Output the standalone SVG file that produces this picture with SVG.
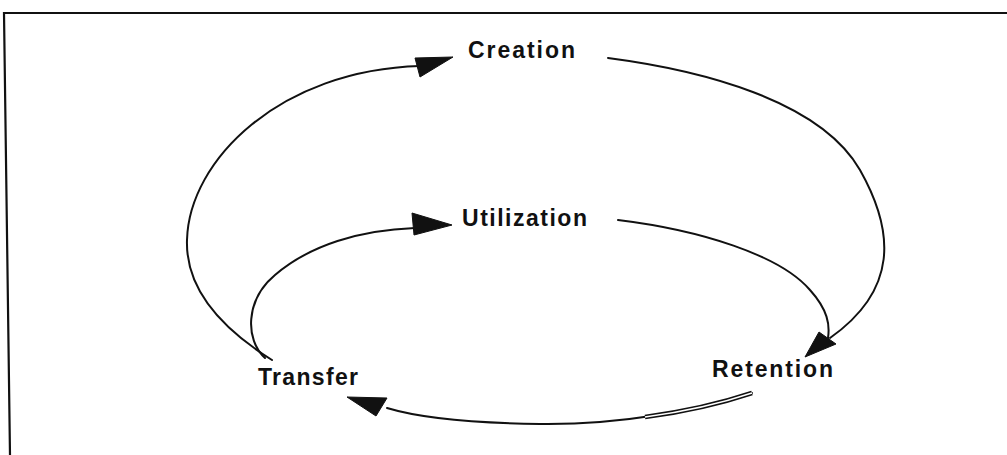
<svg xmlns="http://www.w3.org/2000/svg" width="1007" height="455" viewBox="0 0 1007 455">
<style>
.lbl{font-family:"Liberation Sans",Arial,sans-serif;font-weight:bold;font-size:23px;fill:#111}
.ln{fill:none;stroke:#111;stroke-width:2;stroke-linecap:round}
.ah{fill:#111;stroke:#111;stroke-width:1}
</style>
<rect width="1007" height="455" fill="#fff"/>
<path d="M1007 13 L4 13 L10 455" fill="none" stroke="#111" stroke-width="2.2"/>
<g id="connectors">
<path class="ln" d="M272 360 C240 340,185 300,187 240 C189 160,280 70,420 66"/>
<path class="ln" d="M608 58 C700 70,820 100,860 170 C895 232,898 290,830 338"/>
<path class="ln" d="M265 358 C245 340,245 300,275 275 C310 245,360 230,415 228"/>
<path class="ln" d="M618 220 C700 230,780 255,810 290 C828 310,830 325,828 338"/>
<path class="ln" d="M752 393 C700 410,620 425,540 424 C470 423,420 418,387 408"/>
<path d="M752 393 C725 402,690 411,645 417" fill="none" stroke="#111" stroke-width="4.5"/>
<path d="M752 393 C725 402,690 411,645 417" fill="none" stroke="#fff" stroke-width="1.5"/>
<polygon class="ah" points="415,58 453,57 420,77"/>
<polygon class="ah" points="412,213 452,225 414,235"/>
<polygon class="ah" points="819,332 836,344 805,357"/>
<polygon class="ah" points="347,397 387,398 376,416"/>
</g>
<g id="creation"><text class="lbl" x="468" y="58" textLength="107" lengthAdjust="spacing">Creation</text></g>
<g id="utilization"><text class="lbl" x="462" y="226" textLength="125" lengthAdjust="spacing">Utilization</text></g>
<g id="transfer"><text class="lbl" x="258" y="385" textLength="100" lengthAdjust="spacing">Transfer</text></g>
<g id="retention"><text class="lbl" x="712" y="377" textLength="121" lengthAdjust="spacing">Retention</text></g>
</svg>
